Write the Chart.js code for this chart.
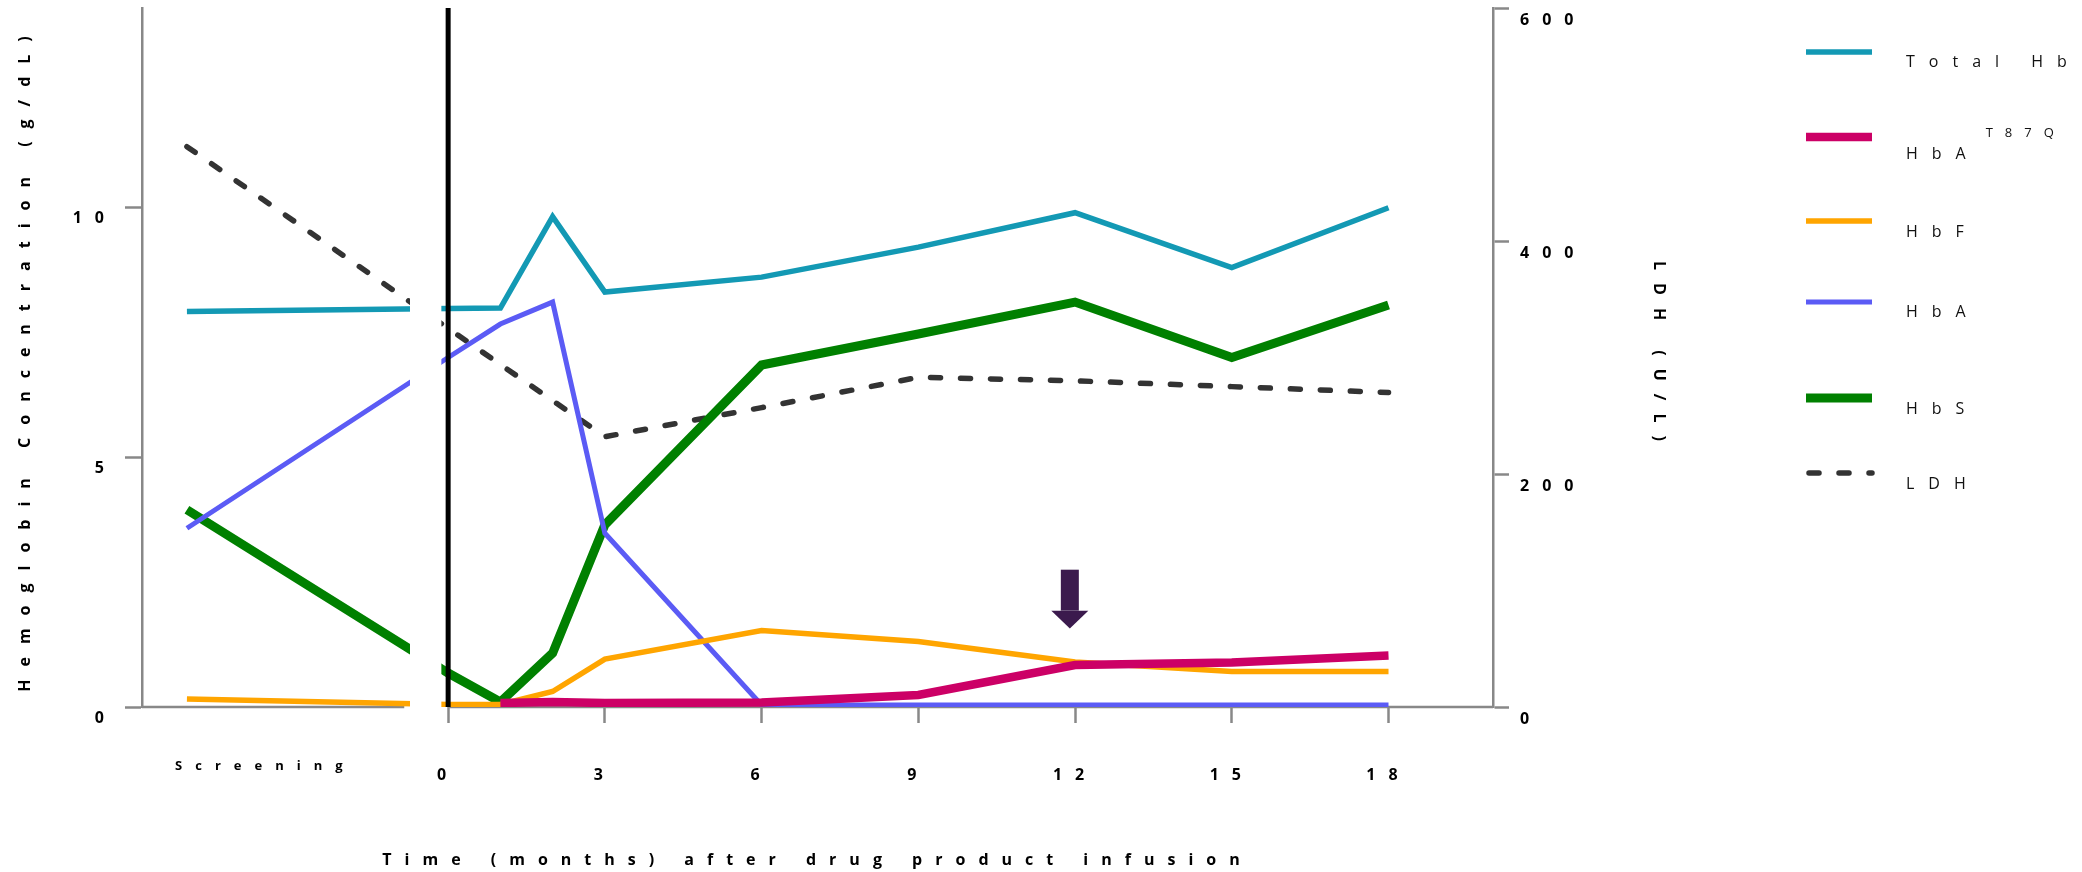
<!DOCTYPE html>
<html>
<head>
<meta charset="utf-8">
<script src="https://cdn.jsdelivr.net/npm/chart.js@4.4.0/dist/chart.umd.min.js"></script>
<style>
  html, body { margin: 0; padding: 0; background: #fff; }
  canvas { display: block; }
</style>
</head>
<body>
<canvas id="hbChart" width="2082" height="872"></canvas>
<script>
// visits in months after infusion, screening visit sits at -5
const visitMonths = [-5, 0, 1, 2, 3, 6, 9, 12, 15, 18];
const monthTicks = [0, 3, 6, 9, 12, 15, 18];
const screeningLabel = 'Screening';
const screeningLabelAt = -3.5;

// hemoglobin fractions (g/dL), left axis
const totalHb = [7.92, 7.98, 7.99, 9.82, 8.31, 8.61, 9.21, 9.90, 8.80, 10.0];
const hbAT87Q = [null, null, 0.08, 0.10, 0.08, 0.09, 0.24, 0.84, 0.89, 1.03];
const hbF     = [0.16, 0.05, 0.05, 0.31, 0.96, 1.53, 1.31, 0.90, 0.71, 0.71];
const hbA     = [3.58, 7.00, 7.67, 8.11, 3.48, 0.04, 0.04, 0.04, 0.04, 0.04];
const hbS     = [3.95, 0.68, 0.10, 1.08, 3.65, 6.85, 7.47, 8.11, 7.00, 8.05];
// LDH (U/L), right axis
const ldh     = [481, 325, null, null, 232, 257, 283, 280, 275, 270];

const hbTicks = [0, 5, 10];

// annotations
const infusionMonth = 0;
const gapFrom = -0.73, gapTo = -0.13, baselineBreak = -0.84;
const arrowMark = { month: 11.9, top: 2.75, neck: 1.93, tip: 1.57 };

const axisGray = '#888888';
Chart.defaults.font.family = '"Open Sans", sans-serif';
Chart.defaults.color = '#000';

function points(values) {
    return visitMonths
        .map((m, i) => ({ x: m, y: values[i] }))
        .filter(p => p.y !== null);
}

const datasets = [
    { label: 'Total Hb', data: points(totalHb), borderColor: '#1399B4', borderWidth: 5.5, yAxisID: 'y' },
    { label: 'HbA', sup: 'T87Q', data: points(hbAT87Q), borderColor: '#CC0066', borderWidth: 8.5, yAxisID: 'y' },
    { label: 'HbF', data: points(hbF), borderColor: '#FFA500', borderWidth: 5.5, yAxisID: 'y' },
    { label: 'HbA', data: points(hbA), borderColor: '#5B5BF5', borderWidth: 5, yAxisID: 'y' },
    { label: 'HbS', data: points(hbS), borderColor: '#008000', borderWidth: 9, yAxisID: 'y' },
    { label: 'LDH', data: points(ldh), borderColor: '#333333', borderWidth: 5.5,
      borderDash: [10, 20], borderCapStyle: 'round', yAxisID: 'y1' }
];
datasets.forEach(ds => {
    ds.pointRadius = 0;
    ds.fill = false;
    ds.tension = 0;
    ds.borderJoinStyle = 'miter';
});

// broken baseline, gap in the lines, infusion line and arrow
const breakPlugin = {
    id: 'axisBreak',
    beforeDraw(chart) {
        chart.ctx.letterSpacing = '13px';
    },
    beforeDatasetsDraw(chart) {
        const { ctx, chartArea, scales: { x, y } } = chart;
        const y0 = y.getPixelForValue(0);
        ctx.save();
        ctx.strokeStyle = axisGray;
        ctx.lineWidth = 2.5;
        ctx.beginPath();
        ctx.moveTo(chartArea.left, y0);
        ctx.lineTo(x.getPixelForValue(baselineBreak), y0);
        ctx.moveTo(x.getPixelForValue(infusionMonth), y0);
        ctx.lineTo(chartArea.right, y0);
        ctx.stroke();
        ctx.restore();
    },
    afterDatasetsDraw(chart) {
        const { ctx, chartArea, scales: { x, y } } = chart;
        const y0 = y.getPixelForValue(0);
        ctx.save();
        // white gap
        const g1 = x.getPixelForValue(gapFrom), g2 = x.getPixelForValue(gapTo);
        ctx.fillStyle = '#fff';
        ctx.fillRect(g1, chartArea.top - 5, g2 - g1, y0 - chartArea.top + 11);
        // infusion line
        const x0 = x.getPixelForValue(infusionMonth);
        ctx.strokeStyle = '#000';
        ctx.lineWidth = 5;
        ctx.beginPath();
        ctx.moveTo(x0, chartArea.top);
        ctx.lineTo(x0, y0);
        ctx.stroke();
        // arrow
        const ax = x.getPixelForValue(arrowMark.month);
        const top = y.getPixelForValue(arrowMark.top);
        const neck = y.getPixelForValue(arrowMark.neck);
        const tip = y.getPixelForValue(arrowMark.tip);
        ctx.fillStyle = '#3B1A4D';
        ctx.fillRect(ax - 9, top, 18, neck - top);
        ctx.beginPath();
        ctx.moveTo(ax - 18.5, neck);
        ctx.lineTo(ax + 18.5, neck);
        ctx.lineTo(ax, tip);
        ctx.closePath();
        ctx.fill();
        ctx.restore();
    }
};

// legend on the right side
const legendPlugin = {
    id: 'sideLegend',
    afterDraw(chart) {
        const ctx = chart.ctx;
        const lineRows = [52, 137, 221, 302, 398, 473];
        const textRows = [62, 154, 232, 312, 409, 484];
        ctx.save();
        chart.data.datasets.forEach((ds, i) => {
            ctx.strokeStyle = ds.borderColor;
            ctx.lineWidth = ds.borderWidth;
            ctx.setLineDash(ds.borderDash || []);
            ctx.lineCap = ds.borderCapStyle || 'butt';
            ctx.beginPath();
            ctx.moveTo(ds.borderDash ? 1809 : 1806, lineRows[i]);
            ctx.lineTo(1872, lineRows[i]);
            ctx.stroke();
            ctx.setLineDash([]);

            ctx.fillStyle = '#111';
            ctx.textBaseline = 'middle';
            ctx.textAlign = 'left';
            ctx.font = '16px "Open Sans"';
            ctx.letterSpacing = '14px';
            ctx.fillText(ds.label, 1906, textRows[i]);
            if (ds.sup) {
                const w = ctx.measureText(ds.label).width;
                ctx.font = '13px "Open Sans"';
                ctx.letterSpacing = '12px';
                ctx.fillText(ds.sup, 1906 + w + 6, textRows[i] - 21);
            }
        });
        ctx.restore();
    }
};

const ctxHb = document.getElementById('hbChart');
const hbChart = new Chart(ctxHb, {
    type: 'line',
    data: { datasets: datasets },
    options: {
        responsive: false,
        animation: false,
        devicePixelRatio: 1,
        events: [],
        layout: { padding: { top: 8, right: 414, bottom: 0, left: 0 } },
        plugins: {
            legend: { display: false },
            tooltip: { enabled: false }
        },
        scales: {
            x: {
                type: 'linear',
                min: -5.86,
                max: 20,
                afterBuildTicks(axis) {
                    axis.ticks = [screeningLabelAt].concat(monthTicks).map(v => ({ value: v }));
                },
                afterFit(scale) {
                    scale.height = 165;
                    scale.paddingLeft = 0;
                    scale.paddingRight = 0;
                },
                border: { display: false },
                grid: {
                    drawOnChartArea: false,
                    tickLength: 16,
                    tickWidth: 2.5,
                    tickColor: c => (c.tick && c.tick.value === screeningLabelAt) ? 'rgba(0,0,0,0)' : axisGray
                },
                ticks: {
                    autoSkip: false,
                    maxRotation: 0,
                    padding: 43,
                    color: '#000',
                    font: c => (c.tick && c.tick.value === screeningLabelAt)
                        ? { size: 13, weight: 'bold', lineHeight: 0.01 }
                        : { size: 16, weight: 'bold' },
                    callback: v => v === screeningLabelAt ? screeningLabel : String(v)
                },
                title: {
                    display: true,
                    text: 'Time (months) after drug product infusion',
                    font: { size: 16, weight: 'bold' },
                    color: '#000',
                    padding: { top: 0, bottom: 2 }
                }
            },
            y: {
                position: 'left',
                min: 0,
                max: 14,
                afterBuildTicks(axis) {
                    axis.ticks = hbTicks.map(v => ({ value: v }));
                },
                afterFit(scale) {
                    scale.width = 142;
                    scale.paddingTop = 0;
                    scale.paddingBottom = 0;
                },
                border: { color: axisGray, width: 2.5 },
                grid: { drawOnChartArea: false, tickLength: 17, tickWidth: 2.5, tickColor: axisGray },
                ticks: {
                    padding: 8,
                    labelOffset: 11,
                    color: '#000',
                    font: { size: 16, weight: 'bold' }
                },
                title: {
                    display: true,
                    text: 'Hemoglobin Concentration (g/dL)',
                    font: { size: 16, weight: 'bold' },
                    color: '#000',
                    padding: { top: 16, bottom: 0 }
                }
            },
            y1: {
                position: 'right',
                min: 0,
                max: 600,
                afterFit(scale) {
                    scale.width = 175;
                    scale.paddingTop = 0;
                    scale.paddingBottom = 0;
                },
                border: { color: axisGray, width: 2.5 },
                grid: { drawOnChartArea: false, tickLength: 16, tickWidth: 2.5, tickColor: axisGray },
                ticks: {
                    stepSize: 200,
                    padding: 11,
                    labelOffset: 12,
                    color: '#000',
                    font: { size: 16, weight: 'bold' }
                },
                title: {
                    display: true,
                    text: 'LDH (U/L)',
                    font: { size: 16, weight: 'bold' },
                    color: '#000',
                    padding: { top: 0, bottom: 0 }
                }
            }
        }
    },
    plugins: [breakPlugin, legendPlugin]
});
</script>
</body>
</html>
